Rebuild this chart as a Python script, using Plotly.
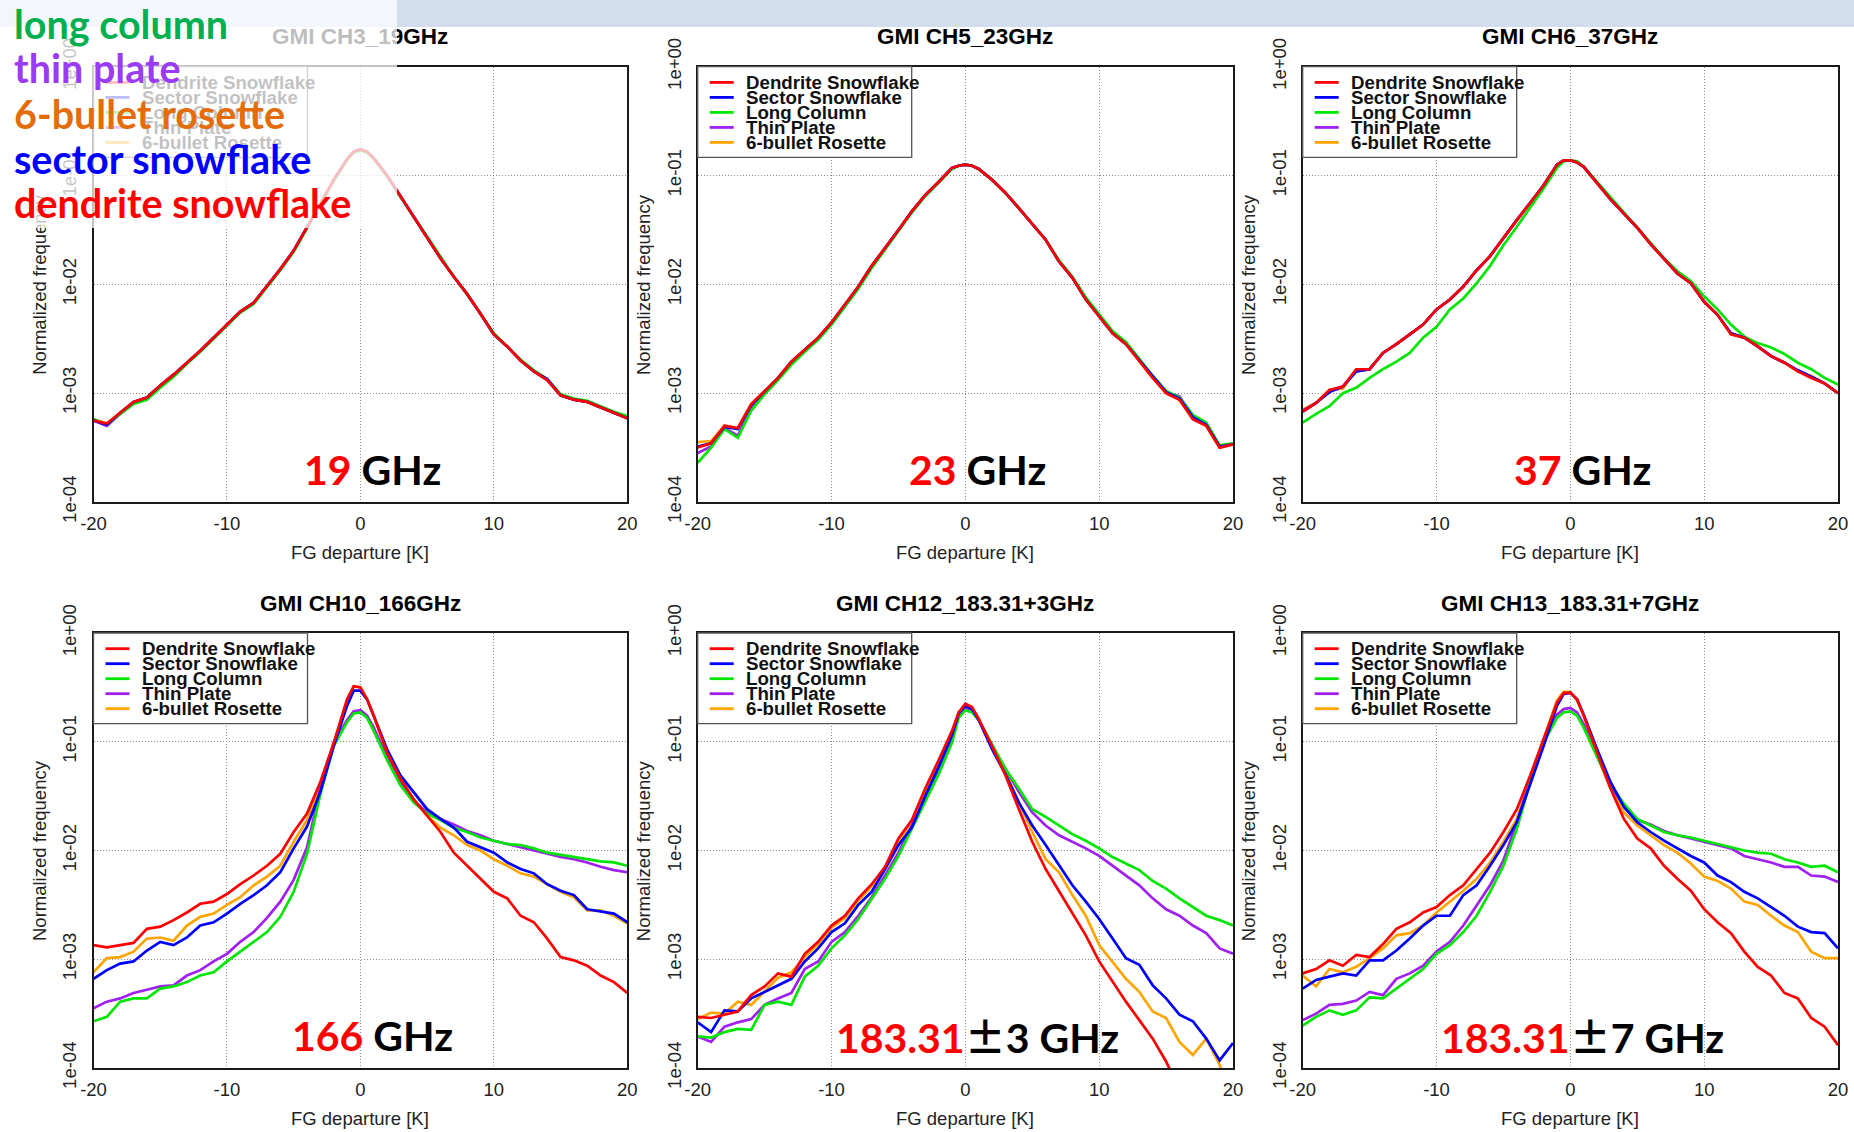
import plotly.graph_objects as go

W, H = 1854, 1132

# ---------------- data (log10 of normalized frequency) ----------------
X = [-20, -19, -18, -17, -16, -15, -14, -13, -12, -11, -10, -9, -8, -7, -6, -5, -4, -3, -2, -1,
     -0.5, 0, 0.5,
     1, 2, 3, 4, 5, 6, 7, 8, 9, 10, 11, 12, 13, 14, 15, 16, 17, 18, 19, 20]

SERIES = ["Dendrite Snowflake", "Sector Snowflake", "Long Column", "Thin Plate", "6-bullet Rosette"]
COLORS = ["#ff0000", "#0000ff", "#00e600", "#a020f0", "#ffa500"]

Y_TICKVALS = [1e-4, 1e-3, 1e-2, 1e-1, 1e0]
Y_TICKTEXT = ["1e-04", "1e-03", "1e-02", "1e-01", "1e+00"]
X_TICKVALS = [-20, -10, 0, 10, 20]
X_TICKTEXT = ["-20", "-10", "0", "10", "20"]

# GMI CH3 19GHz
ch3_dendrite = [-3.25, -3.28, -3.18, -3.08, -3.04, -2.93, -2.83, -2.72, -2.61, -2.49, -2.37, -2.25, -2.17, -2.02, -1.86, -1.69, -1.48, -1.26, -1.04, -0.85, -0.78, -0.76, -0.78, -0.84, -1.00, -1.19, -1.37, -1.56, -1.76, -1.93, -2.09, -2.27, -2.46, -2.57, -2.70, -2.80, -2.88, -3.02, -3.06, -3.08, -3.13, -3.18, -3.23]
ch3_sector = [-3.25, -3.29, -3.18, -3.08, -3.04, -2.93, -2.83, -2.72, -2.61, -2.49, -2.37, -2.25, -2.17, -2.02, -1.86, -1.69, -1.48, -1.26, -1.04, -0.85, -0.78, -0.76, -0.78, -0.84, -1.00, -1.19, -1.37, -1.56, -1.76, -1.93, -2.09, -2.27, -2.46, -2.57, -2.70, -2.80, -2.87, -3.02, -3.06, -3.08, -3.13, -3.18, -3.23]
ch3_column = [-3.24, -3.29, -3.19, -3.10, -3.06, -2.95, -2.85, -2.73, -2.62, -2.50, -2.38, -2.26, -2.18, -2.03, -1.87, -1.70, -1.49, -1.27, -1.05, -0.86, -0.79, -0.77, -0.79, -0.85, -1.01, -1.20, -1.38, -1.56, -1.75, -1.93, -2.09, -2.27, -2.45, -2.57, -2.69, -2.79, -2.87, -3.01, -3.05, -3.07, -3.12, -3.17, -3.21]
ch3_plate = [-3.25, -3.30, -3.19, -3.09, -3.04, -2.93, -2.83, -2.72, -2.61, -2.49, -2.37, -2.25, -2.17, -2.02, -1.86, -1.69, -1.48, -1.26, -1.04, -0.85, -0.78, -0.76, -0.78, -0.84, -1.00, -1.19, -1.37, -1.56, -1.76, -1.93, -2.09, -2.27, -2.46, -2.57, -2.70, -2.80, -2.88, -3.02, -3.06, -3.08, -3.13, -3.18, -3.23]
ch3_rosette = [-3.24, -3.28, -3.18, -3.08, -3.04, -2.93, -2.83, -2.72, -2.61, -2.49, -2.37, -2.25, -2.17, -2.02, -1.86, -1.69, -1.48, -1.26, -1.04, -0.85, -0.78, -0.76, -0.78, -0.84, -1.00, -1.19, -1.37, -1.56, -1.76, -1.93, -2.09, -2.27, -2.46, -2.57, -2.70, -2.80, -2.88, -3.02, -3.06, -3.08, -3.13, -3.18, -3.23]

# GMI CH5 23GHz
ch5_dendrite = [-3.50, -3.46, -3.30, -3.32, -3.10, -2.98, -2.86, -2.71, -2.60, -2.49, -2.35, -2.19, -2.02, -1.83, -1.67, -1.50, -1.33, -1.18, -1.06, -0.93, -0.91, -0.90, -0.91, -0.94, -1.04, -1.16, -1.30, -1.44, -1.59, -1.79, -1.94, -2.14, -2.29, -2.45, -2.55, -2.71, -2.86, -3.00, -3.06, -3.24, -3.30, -3.50, -3.47]
ch5_sector = [-3.49, -3.46, -3.31, -3.33, -3.11, -2.98, -2.86, -2.71, -2.60, -2.49, -2.35, -2.19, -2.02, -1.83, -1.67, -1.50, -1.33, -1.18, -1.06, -0.93, -0.91, -0.90, -0.91, -0.94, -1.04, -1.16, -1.30, -1.44, -1.59, -1.79, -1.94, -2.14, -2.29, -2.45, -2.55, -2.70, -2.85, -2.99, -3.05, -3.22, -3.29, -3.49, -3.47]
ch5_column = [-3.64, -3.50, -3.33, -3.41, -3.16, -3.01, -2.88, -2.74, -2.62, -2.51, -2.37, -2.21, -2.04, -1.85, -1.68, -1.51, -1.34, -1.19, -1.06, -0.94, -0.91, -0.90, -0.91, -0.94, -1.04, -1.16, -1.30, -1.44, -1.59, -1.78, -1.93, -2.12, -2.27, -2.43, -2.53, -2.69, -2.84, -2.98, -3.04, -3.20, -3.27, -3.48, -3.46]
ch5_plate = [-3.55, -3.49, -3.32, -3.39, -3.14, -3.00, -2.87, -2.73, -2.61, -2.50, -2.36, -2.20, -2.03, -1.84, -1.67, -1.50, -1.33, -1.18, -1.06, -0.93, -0.91, -0.90, -0.91, -0.94, -1.04, -1.16, -1.30, -1.44, -1.59, -1.79, -1.94, -2.13, -2.28, -2.44, -2.54, -2.70, -2.85, -2.99, -3.03, -3.21, -3.29, -3.49, -3.47]
ch5_rosette = [-3.45, -3.44, -3.30, -3.32, -3.10, -2.98, -2.86, -2.71, -2.60, -2.49, -2.35, -2.19, -2.02, -1.83, -1.67, -1.50, -1.33, -1.18, -1.06, -0.93, -0.91, -0.90, -0.91, -0.94, -1.04, -1.16, -1.30, -1.44, -1.59, -1.79, -1.94, -2.14, -2.29, -2.45, -2.55, -2.71, -2.86, -3.00, -3.06, -3.24, -3.30, -3.50, -3.47]

# GMI CH6 37GHz
ch6_dendrite = [-3.17, -3.09, -2.97, -2.94, -2.78, -2.78, -2.63, -2.55, -2.46, -2.37, -2.23, -2.14, -2.02, -1.87, -1.74, -1.57, -1.41, -1.25, -1.09, -0.90, -0.86, -0.86, -0.88, -0.92, -1.07, -1.22, -1.35, -1.48, -1.63, -1.77, -1.90, -1.99, -2.16, -2.28, -2.46, -2.49, -2.57, -2.66, -2.72, -2.80, -2.86, -2.91, -3.00]
ch6_sector = [-3.17, -3.09, -2.99, -2.94, -2.80, -2.78, -2.63, -2.55, -2.46, -2.37, -2.23, -2.14, -2.02, -1.87, -1.74, -1.57, -1.41, -1.25, -1.09, -0.90, -0.86, -0.86, -0.88, -0.92, -1.07, -1.22, -1.35, -1.48, -1.63, -1.77, -1.90, -1.99, -2.16, -2.28, -2.45, -2.49, -2.57, -2.66, -2.72, -2.79, -2.85, -2.91, -3.00]
ch6_column = [-3.27, -3.19, -3.12, -3.00, -2.95, -2.86, -2.78, -2.71, -2.63, -2.49, -2.39, -2.23, -2.13, -1.99, -1.83, -1.64, -1.47, -1.30, -1.12, -0.93, -0.87, -0.86, -0.87, -0.92, -1.06, -1.20, -1.34, -1.47, -1.61, -1.76, -1.88, -1.97, -2.11, -2.23, -2.37, -2.48, -2.54, -2.58, -2.64, -2.72, -2.78, -2.86, -2.92]
ch6_plate = [-3.16, -3.09, -2.98, -2.94, -2.80, -2.78, -2.63, -2.55, -2.46, -2.37, -2.23, -2.14, -2.02, -1.87, -1.74, -1.57, -1.41, -1.25, -1.09, -0.90, -0.86, -0.86, -0.88, -0.92, -1.07, -1.22, -1.35, -1.48, -1.63, -1.77, -1.90, -1.99, -2.16, -2.28, -2.45, -2.49, -2.57, -2.66, -2.72, -2.79, -2.85, -2.91, -3.00]
ch6_rosette = [-3.15, -3.09, -2.97, -2.96, -2.78, -2.78, -2.63, -2.55, -2.46, -2.37, -2.23, -2.14, -2.02, -1.87, -1.74, -1.57, -1.41, -1.25, -1.09, -0.90, -0.86, -0.86, -0.88, -0.92, -1.07, -1.22, -1.35, -1.48, -1.63, -1.77, -1.90, -1.99, -2.16, -2.28, -2.46, -2.49, -2.57, -2.66, -2.72, -2.80, -2.84, -2.91, -3.00]

# GMI CH10 166GHz
ch10_dendrite = [-2.87, -2.89, -2.87, -2.85, -2.72, -2.70, -2.64, -2.57, -2.49, -2.47, -2.40, -2.31, -2.23, -2.14, -2.03, -1.83, -1.66, -1.37, -1.01, -0.61, -0.49, -0.50, -0.61, -0.76, -1.10, -1.34, -1.53, -1.68, -1.83, -2.02, -2.14, -2.26, -2.38, -2.44, -2.60, -2.66, -2.81, -2.98, -3.01, -3.06, -3.15, -3.21, -3.31]
ch10_sector = [-3.18, -3.10, -3.04, -3.02, -2.92, -2.84, -2.87, -2.80, -2.69, -2.66, -2.58, -2.49, -2.41, -2.32, -2.20, -1.98, -1.78, -1.46, -1.04, -0.67, -0.53, -0.53, -0.61, -0.76, -1.07, -1.31, -1.46, -1.62, -1.71, -1.79, -1.92, -1.97, -2.02, -2.11, -2.17, -2.21, -2.31, -2.37, -2.41, -2.54, -2.56, -2.58, -2.66]
ch10_column = [-3.57, -3.53, -3.39, -3.36, -3.36, -3.27, -3.25, -3.21, -3.15, -3.12, -3.02, -2.93, -2.84, -2.75, -2.61, -2.38, -2.03, -1.48, -1.04, -0.82, -0.74, -0.73, -0.78, -0.90, -1.17, -1.40, -1.56, -1.66, -1.72, -1.79, -1.83, -1.88, -1.91, -1.94, -1.95, -1.98, -2.02, -2.04, -2.06, -2.08, -2.10, -2.11, -2.14]
ch10_plate = [-3.45, -3.39, -3.36, -3.31, -3.28, -3.25, -3.24, -3.15, -3.10, -3.02, -2.95, -2.84, -2.75, -2.62, -2.47, -2.27, -1.97, -1.43, -1.01, -0.80, -0.72, -0.71, -0.76, -0.87, -1.14, -1.37, -1.54, -1.65, -1.71, -1.76, -1.82, -1.86, -1.91, -1.94, -1.97, -2.00, -2.03, -2.06, -2.08, -2.11, -2.15, -2.18, -2.20]
ch10_rosette = [-3.12, -2.99, -2.98, -2.93, -2.81, -2.80, -2.83, -2.69, -2.61, -2.58, -2.50, -2.43, -2.32, -2.24, -2.14, -1.92, -1.72, -1.40, -1.02, -0.62, -0.49, -0.50, -0.61, -0.76, -1.10, -1.34, -1.53, -1.68, -1.79, -1.86, -1.95, -2.00, -2.08, -2.14, -2.21, -2.24, -2.31, -2.38, -2.43, -2.55, -2.55, -2.60, -2.67]

# GMI CH12 183.31+-3GHz
ch12_dendrite = [-3.53, -3.54, -3.51, -3.48, -3.33, -3.25, -3.13, -3.16, -2.95, -2.84, -2.69, -2.60, -2.44, -2.31, -2.15, -1.89, -1.72, -1.43, -1.17, -0.90, -0.73, -0.65, -0.68, -0.79, -1.04, -1.31, -1.62, -1.92, -2.17, -2.37, -2.57, -2.78, -3.02, -3.21, -3.39, -3.56, -3.73, -3.94, -4.20, None, None, None, None]
ch12_sector = [-3.58, -3.67, -3.47, -3.48, -3.36, -3.30, -3.24, -3.18, -3.02, -2.90, -2.75, -2.67, -2.50, -2.38, -2.17, -1.95, -1.79, -1.50, -1.23, -0.94, -0.74, -0.67, -0.70, -0.80, -1.07, -1.30, -1.56, -1.77, -1.95, -2.14, -2.32, -2.47, -2.63, -2.81, -2.99, -3.05, -3.24, -3.36, -3.51, -3.57, -3.73, -3.93, -3.77]
ch12_column = [-3.71, -3.72, -3.67, -3.64, -3.65, -3.42, -3.39, -3.42, -3.16, -3.06, -2.90, -2.78, -2.63, -2.44, -2.26, -2.05, -1.80, -1.54, -1.30, -1.01, -0.78, -0.71, -0.73, -0.80, -1.02, -1.25, -1.43, -1.62, -1.69, -1.77, -1.85, -1.91, -1.98, -2.06, -2.12, -2.18, -2.28, -2.35, -2.44, -2.52, -2.60, -2.64, -2.69]
ch12_plate = [-3.71, -3.76, -3.62, -3.58, -3.55, -3.42, -3.36, -3.31, -3.09, -3.02, -2.84, -2.75, -2.60, -2.43, -2.23, -2.02, -1.77, -1.53, -1.28, -0.98, -0.76, -0.69, -0.71, -0.80, -1.04, -1.25, -1.46, -1.65, -1.77, -1.86, -1.92, -1.98, -2.05, -2.14, -2.23, -2.32, -2.44, -2.54, -2.60, -2.69, -2.76, -2.90, -2.95]
ch12_rosette = [-3.55, -3.49, -3.50, -3.39, -3.42, -3.29, -3.17, -3.12, -2.98, -2.86, -2.71, -2.62, -2.46, -2.33, -2.17, -1.91, -1.74, -1.45, -1.20, -0.92, -0.73, -0.66, -0.69, -0.79, -1.05, -1.28, -1.56, -1.83, -2.08, -2.20, -2.41, -2.60, -2.87, -3.02, -3.18, -3.30, -3.48, -3.54, -3.76, -3.88, -3.73, -3.97, -4.30]

# GMI CH13 183.31+-7GHz
ch13_dendrite = [-3.13, -3.09, -3.01, -3.06, -2.96, -2.98, -2.86, -2.72, -2.66, -2.57, -2.52, -2.41, -2.32, -2.17, -2.02, -1.83, -1.62, -1.31, -0.98, -0.64, -0.55, -0.55, -0.61, -0.76, -1.10, -1.43, -1.71, -1.89, -1.98, -2.14, -2.26, -2.37, -2.54, -2.66, -2.76, -2.93, -3.07, -3.15, -3.31, -3.36, -3.54, -3.62, -3.79]
ch13_sector = [-3.27, -3.19, -3.16, -3.13, -3.15, -3.01, -3.01, -2.92, -2.81, -2.69, -2.60, -2.60, -2.41, -2.32, -2.14, -1.95, -1.74, -1.40, -1.04, -0.67, -0.56, -0.55, -0.61, -0.75, -1.07, -1.37, -1.60, -1.74, -1.83, -1.91, -1.98, -2.05, -2.11, -2.23, -2.29, -2.38, -2.44, -2.52, -2.60, -2.70, -2.75, -2.76, -2.90]
ch13_column = [-3.61, -3.53, -3.47, -3.51, -3.47, -3.35, -3.36, -3.27, -3.18, -3.09, -2.95, -2.87, -2.75, -2.60, -2.38, -2.14, -1.80, -1.37, -1.01, -0.78, -0.73, -0.72, -0.76, -0.87, -1.14, -1.39, -1.57, -1.71, -1.77, -1.83, -1.86, -1.88, -1.91, -1.94, -1.97, -2.00, -2.02, -2.03, -2.08, -2.11, -2.15, -2.14, -2.20]
ch13_plate = [-3.56, -3.50, -3.42, -3.41, -3.38, -3.30, -3.33, -3.18, -3.13, -3.06, -2.93, -2.84, -2.69, -2.50, -2.32, -2.09, -1.74, -1.35, -1.00, -0.75, -0.70, -0.69, -0.73, -0.84, -1.13, -1.40, -1.59, -1.72, -1.76, -1.82, -1.86, -1.89, -1.92, -1.95, -1.98, -2.05, -2.08, -2.11, -2.15, -2.15, -2.23, -2.24, -2.29]
ch13_rosette = [-3.15, -3.25, -3.09, -3.12, -3.07, -2.99, -2.90, -2.78, -2.76, -2.69, -2.57, -2.47, -2.37, -2.26, -2.11, -1.92, -1.71, -1.34, -0.98, -0.62, -0.54, -0.54, -0.62, -0.76, -1.13, -1.43, -1.65, -1.77, -1.86, -1.95, -2.02, -2.12, -2.24, -2.28, -2.35, -2.47, -2.50, -2.60, -2.69, -2.75, -2.93, -2.99, -2.99]

TITLES = ["GMI CH3_19GHz", "GMI CH5_23GHz", "GMI CH6_37GHz",
          "GMI CH10_166GHz", "GMI CH12_183.31+3GHz", "GMI CH13_183.31+7GHz"]
BAND_RED = ["19", "23", "37", "166", "183.31", "183.31"]
BAND_BLACK = [" GHz", " GHz", " GHz", " GHz", "±3 GHz", "±7 GHz"]

PANEL_DATA = [
    [ch3_dendrite, ch3_sector, ch3_column, ch3_plate, ch3_rosette],
    [ch5_dendrite, ch5_sector, ch5_column, ch5_plate, ch5_rosette],
    [ch6_dendrite, ch6_sector, ch6_column, ch6_plate, ch6_rosette],
    [ch10_dendrite, ch10_sector, ch10_column, ch10_plate, ch10_rosette],
    [ch12_dendrite, ch12_sector, ch12_column, ch12_plate, ch12_rosette],
    [ch13_dendrite, ch13_sector, ch13_column, ch13_plate, ch13_rosette],
]
for arrs in PANEL_DATA:
    for a in arrs:
        assert len(a) == len(X), len(a)

OVERLAY_WORDS = ["long column", "thin plate", "6-bullet rosette", "sector snowflake", "dendrite snowflake"]
OVERLAY_COLORS = ["#00b050", "#9a3cf5", "#e46c0a", "#0000ff", "#ff0000"]

# ---------------- layout geometry (pixels) ----------------
COL_PX = [(93.5, 627.3), (697.7, 1233.0), (1302.7, 1838.0)]
ROW_PX = [(66.7, 502.0), (633.0, 1068.0)]

AX_FONT = dict(family="Liberation Sans, Arial, sans-serif", size=18.5, color="#222222")
BOLD_FONT = "Liberation Sans, Arial, sans-serif"

fig = go.Figure()
annotations = []
shapes = []
layout_axes = {}

DRAW_ORDER = [4, 3, 2, 1, 0]

for i, data in enumerate(PANEL_DATA):
    r, c = divmod(i, 3)
    k = "" if i == 0 else str(i + 1)
    xa, ya = "x" + k, "y" + k
    x0, x1 = COL_PX[c]
    t, b = ROW_PX[r]
    pw, ph = x1 - x0, b - t

    grid = dict(showgrid=True, gridcolor="#8c8c8c", griddash="1px,2px", gridwidth=1,
                zeroline=False, showline=True, linecolor="#1a1a1a", linewidth=1.6,
                mirror=True, ticks="", tickfont=AX_FONT, automargin=False)
    layout_axes["xaxis" + k] = dict(domain=[x0 / W, x1 / W], anchor=ya, range=[-20, 20],
                                    tickvals=X_TICKVALS, ticktext=X_TICKTEXT,
                                    ticklabelstandoff=4, **grid)
    layout_axes["yaxis" + k] = dict(domain=[1 - b / H, 1 - t / H], anchor=xa, type="log",
                                    range=[-4, 0], tickvals=Y_TICKVALS, ticktext=Y_TICKTEXT,
                                    tickangle=-90, ticklabelstandoff=8, **grid)

    for j in DRAW_ORDER:
        fig.add_trace(go.Scatter(
            x=X, y=[None if v is None else 10 ** v for v in data[j]],
            xaxis=xa, yaxis=ya, mode="lines", name=SERIES[j], showlegend=False,
            line=dict(color=COLORS[j], width=2.7)))

    # panel title
    annotations.append(dict(text=TITLES[i], xref="paper", yref="paper",
                            x=(x0 + x1) / 2 / W, y=1 - (t - 30) / H,
                            xanchor="center", yanchor="middle", showarrow=False,
                            font=dict(family=BOLD_FONT, size=22.5, color="#000000", weight="bold")))
    # axis titles
    annotations.append(dict(text="FG departure [K]", xref="paper", yref="paper",
                            x=(x0 + x1) / 2 / W, y=1 - (b + 50) / H,
                            xanchor="center", yanchor="middle", showarrow=False, font=AX_FONT))
    annotations.append(dict(text="Normalized frequency", xref="paper", yref="paper",
                            x=(x0 - 54) / W, y=1 - (t + b) / 2 / H, textangle=-90,
                            xanchor="center", yanchor="middle", showarrow=False, font=AX_FONT))
    # legend box
    shapes.append(dict(type="rect", xref=xa + " domain", yref=ya + " domain",
                       x0=0, x1=214 / pw, y0=1 - 90.7 / ph, y1=1,
                       fillcolor="white", line=dict(color="#555555", width=1.3), layer="above"))
    for n in range(5):
        yy = 1 - (15.7 + 15.0 * n) / ph
        shapes.append(dict(type="line", xref=xa + " domain", yref=ya + " domain",
                           x0=12 / pw, x1=36 / pw, y0=yy, y1=yy,
                           line=dict(color=COLORS[n], width=2.8), layer="above"))
        annotations.append(dict(text=SERIES[n], xref=xa + " domain", yref=ya + " domain",
                                x=46 / pw, y=yy, xanchor="left", yanchor="middle",
                                showarrow=False,
                                font=dict(family=BOLD_FONT, size=18.7, color="#111111", weight="bold")))
    # big band label
    red, black = BAND_RED[i], BAND_BLACK[i]
    if black.startswith("±"):
        black_html = '<span style="font-family:Noto Sans CJK JP">±</span>' + black[1:]
    else:
        black_html = black
    annotations.append(dict(text='<span style="color:#ff0000">' + red + '</span>' + black_html,
                            xref=xa, yref=ya, x=0.9, y=-3.70, xanchor="center", yanchor="middle",
                            showarrow=False,
                            font=dict(family="Lato, Open Sans, sans-serif", size=41,
                                      color="#000000", weight="bold")))

# slide header band
shapes.append(dict(type="rect", xref="paper", yref="paper", x0=0, x1=1, y0=1 - 27 / H, y1=1,
                   fillcolor="#d2deee", line=dict(width=0), layer="below"))

# translucent overlay box at top-left (drawn above the first panel's texts)
annotations.append(dict(text=" ", xref="paper", yref="paper", x=0, y=1,
                        xanchor="left", yanchor="top", width=397, height=228,
                        bgcolor="rgba(255,255,255,0.74)", borderpad=0, borderwidth=0,
                        showarrow=False, font=dict(size=10)))
for n, (word, col) in enumerate(zip(OVERLAY_WORDS, OVERLAY_COLORS)):
    annotations.append(dict(text=word, xref="paper", yref="paper",
                            x=12 / W, y=1 - (23 + 45 * n) / H,
                            xanchor="left", yanchor="middle", showarrow=False,
                            font=dict(family="Lato, Open Sans, sans-serif", size=39.5,
                                      color=col, weight="bold")))

fig.update_layout(
    width=W, height=H, margin=dict(l=0, r=0, t=0, b=0, pad=0, autoexpand=False),
    paper_bgcolor="white", plot_bgcolor="white",
    showlegend=False, annotations=annotations, shapes=shapes,
    **layout_axes)

fig.write_html(
    "out.html",
    config={"displayModeBar": False},
    post_script="document.body.style.margin='0px';document.body.style.padding='0px';"
                "document.body.style.overflow='hidden';")
